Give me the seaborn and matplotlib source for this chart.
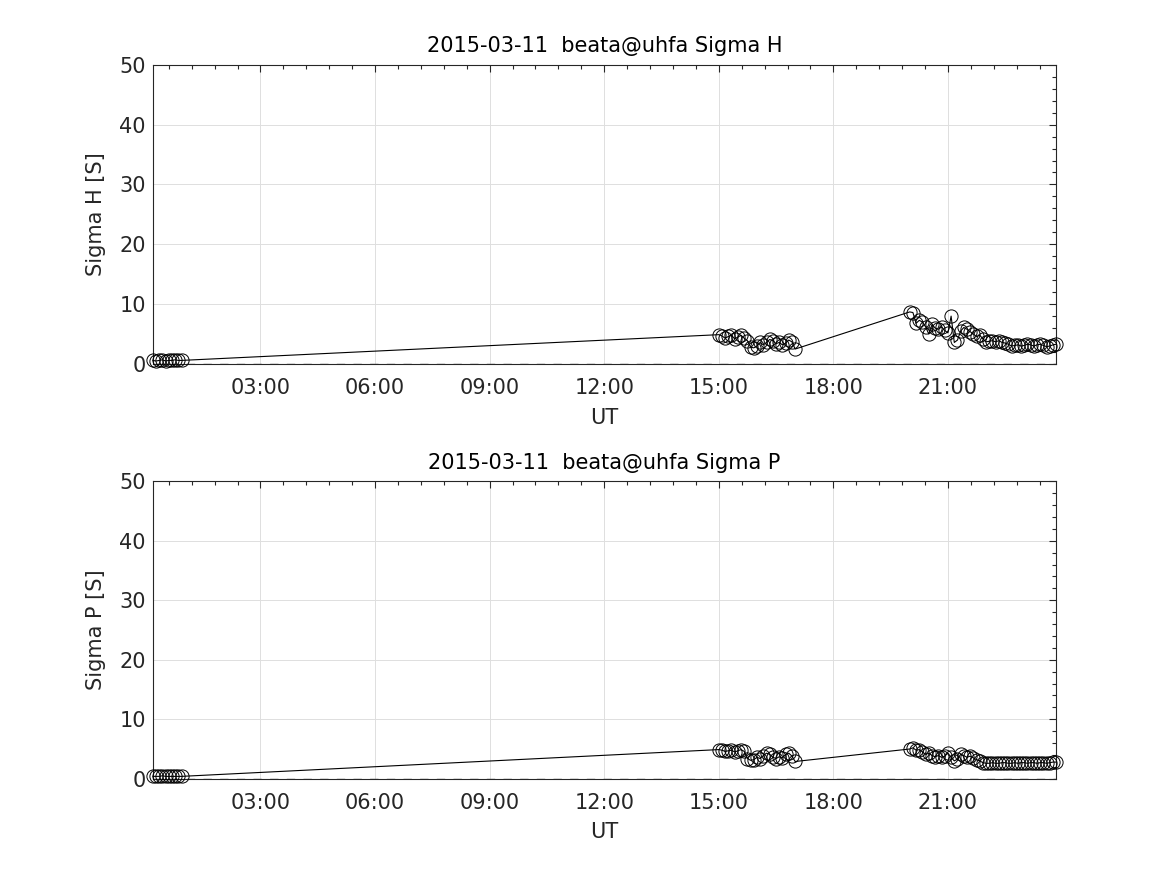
import numpy as np
import pandas as pd
import seaborn as sns
import matplotlib
matplotlib.use("Agg")
import matplotlib.pyplot as plt
from matplotlib.ticker import MultipleLocator, FuncFormatter

# ---- data ----
times_a = ["00:11", "00:16", "00:21", "00:26", "00:31", "00:36", "00:41", "00:46", "00:51", "00:56"]
times_b = ["15:00", "15:05", "15:10", "15:15", "15:20", "15:25", "15:30", "15:35", "15:40", "15:45",
           "15:50", "15:55", "16:00", "16:05", "16:10", "16:15", "16:20", "16:25", "16:30", "16:35",
           "16:40", "16:45", "16:50", "16:55", "17:00"]
times_c = ["20:00", "20:05", "20:10", "20:15", "20:20", "20:25", "20:30", "20:35", "20:40", "20:45",
           "20:50", "20:55", "21:00", "21:05", "21:10", "21:15", "21:20", "21:25", "21:30", "21:35",
           "21:40", "21:45", "21:50", "21:55", "22:00", "22:05", "22:10", "22:15", "22:20", "22:25",
           "22:30", "22:35", "22:40", "22:45", "22:50", "22:55", "23:00", "23:05", "23:10", "23:15",
           "23:20", "23:25", "23:30", "23:35", "23:40", "23:45", "23:50"]

sigma_h_a = [0.6, 0.5, 0.6, 0.7, 0.5, 0.6, 0.6, 0.7, 0.6, 0.6]
sigma_h_b = [4.9, 4.7, 4.3, 4.6, 4.8, 4.2, 4.5, 4.8, 4.3, 3.9,
             2.8, 2.7, 3.0, 3.6, 3.2, 3.6, 4.1, 3.9, 3.4, 3.6,
             3.2, 3.5, 4.0, 3.7, 2.5]
sigma_h_c = [8.7, 8.6, 6.8, 7.3, 7.0, 6.2, 5.0, 6.6, 6.0, 5.8,
             6.2, 5.6, 5.2, 8.0, 3.6, 4.0, 5.5, 6.1, 5.8, 5.4,
             5.0, 4.6, 4.8, 4.2, 3.7, 3.8, 3.9, 3.7, 3.9, 3.6,
             3.5, 3.3, 3.0, 3.1, 3.2, 3.0, 3.1, 3.3, 3.2, 3.0,
             3.2, 3.3, 3.1, 2.9, 3.0, 3.2, 3.3]

sigma_p_a = [0.4, 0.4, 0.4, 0.5, 0.4, 0.4, 0.4, 0.4, 0.4, 0.4]
sigma_p_b = [4.9, 4.8, 4.6, 4.7, 4.8, 4.5, 4.7, 4.9, 4.6, 3.4,
             3.1, 3.2, 3.6, 3.4, 3.9, 4.3, 4.1, 3.6, 3.4, 3.7,
             3.5, 4.1, 4.3, 3.8, 2.9]
sigma_p_c = [5.0, 5.2, 4.8, 4.9, 4.5, 4.1, 4.3, 3.9, 3.7, 3.9,
             3.6, 3.8, 4.3, 3.6, 3.0, 3.3, 4.1, 3.9, 3.6, 3.8,
             3.5, 3.2, 3.0, 2.7, 2.6, 2.6, 2.7, 2.6, 2.6, 2.7,
             2.7, 2.6, 2.6, 2.7, 2.6, 2.7, 2.7, 2.6, 2.7, 2.7,
             2.6, 2.7, 2.7, 2.6, 2.7, 2.8, 2.8]

date_str = "2015-03-11"
station = "beata@uhfa"
ylim_max = 50


def to_hours(lst):
    out = []
    for s in lst:
        h, m = s.split(":")
        out.append(int(h) + int(m) / 60.0)
    return out


times = to_hours(times_a) + to_hours(times_b) + to_hours(times_c)
df = pd.DataFrame({
    "t": times,
    "Sigma H": sigma_h_a + sigma_h_b + sigma_h_c,
    "Sigma P": sigma_p_a + sigma_p_b + sigma_p_c,
})

sns.set_style("white")
plt.rcParams["font.family"] = ["DejaVu Sans"]

fig = plt.figure(figsize=(11.67, 8.75), dpi=100)
ax1 = fig.add_axes([0.131, 0.584, 0.774, 0.342])
ax2 = fig.add_axes([0.131, 0.110, 0.774, 0.340])


def fmt(x, pos):
    h = int(round(x * 60)) // 60
    m = int(round(x * 60)) % 60
    return f"{h:02d}:{m:02d}"


for ax, col in [(ax1, "Sigma H"), (ax2, "Sigma P")]:
    ax.axhline(0, color="0.35", lw=1.0, ls=(0, (6, 6)), zorder=1)
    sns.lineplot(data=df, x="t", y=col, ax=ax, color="black", lw=0.8,
                 marker="o", markersize=9.5, markerfacecolor="none",
                 markeredgecolor="black", markeredgewidth=0.7,
                 sort=False, estimator=None, clip_on=False, zorder=3)
    ax.set_xlim(df["t"].min(), df["t"].max())
    ax.set_ylim(0, ylim_max)
    ax.xaxis.set_major_locator(MultipleLocator(3))
    ax.xaxis.set_minor_locator(MultipleLocator(0.6))
    ax.xaxis.set_major_formatter(FuncFormatter(fmt))
    ax.yaxis.set_major_locator(MultipleLocator(10))
    ax.yaxis.set_minor_locator(MultipleLocator(2))
    ax.grid(True, which="major", color="0.87", lw=0.7)
    ax.set_axisbelow(True)
    ax.tick_params(which="both", direction="in", top=True, right=True,
                   labelsize=15, colors="0.15", width=0.8)
    ax.tick_params(axis="x", which="major", pad=10)
    ax.tick_params(axis="y", which="major", pad=5)
    ax.tick_params(which="major", length=5)
    ax.tick_params(which="minor", length=3)
    for sp in ax.spines.values():
        sp.set_color("0.15")
        sp.set_linewidth(0.8)
    ax.set_xlabel("UT", fontsize=15, color="0.15", labelpad=7)
    ax.set_ylabel(f"{col} [S]", fontsize=15, color="0.15", labelpad=10)
    ax.set_title(f"{date_str}  {station} {col}", fontsize=15, color="black", pad=9)

fig.savefig("out.png", dpi=100)
